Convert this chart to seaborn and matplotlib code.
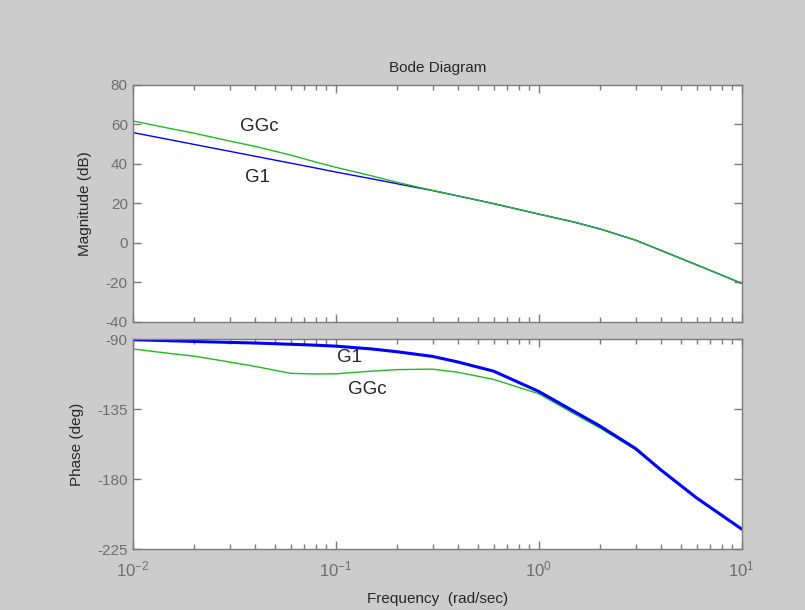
import numpy as np
import pandas as pd
import seaborn as sns
import matplotlib
matplotlib.use("Agg")
import matplotlib.pyplot as plt
from matplotlib.ticker import LogLocator, NullFormatter, FixedLocator, FuncFormatter

# frequency grid (rad/sec) and curves
freq = [0.01, 0.015, 0.02, 0.03, 0.04, 0.06, 0.08, 0.1, 0.15, 0.2, 0.3,
        0.4, 0.6, 1.0, 1.5, 2.0, 3.0, 4.0, 6.0, 10.0]

g1_mag = [55.8, 52.3, 49.8, 46.3, 43.8, 40.3, 37.8, 35.8, 32.4, 29.9, 26.4,
          23.7, 19.8, 14.5, 10.4, 7.0, 1.3, -3.9, -11.2, -20.6]
ggc_mag = [61.7, 58.0, 55.5, 51.5, 48.8, 44.4, 40.8, 38.2, 33.9, 30.6, 26.5,
           23.7, 19.8, 14.5, 10.4, 7.0, 1.3, -3.9, -11.2, -20.6]

g1_phase = [-90.3, -90.9, -91.4, -92.0, -92.4, -93.2, -93.8, -94.4, -96.2, -98.0,
            -101.0, -104.6, -110.5, -123.5, -136.5, -145.7, -160.2, -174.0, -192.0, -212.0]
ggc_phase = [-96.2, -99.0, -100.8, -104.6, -107.4, -111.9, -112.3, -112.2, -110.5, -109.5,
             -109.2, -111.2, -115.8, -125.0, -138.0, -147.0, -161.0, -174.5, -192.3, -212.0]

mag_ticks = [-40, -20, 0, 20, 40, 60, 80]
phase_ticks = [-225, -180, -135, -90]

sns.set_style("ticks")
plt.rcParams['font.family'] = ['Liberation Sans', 'DejaVu Sans']
plt.rcParams['mathtext.fontset'] = 'custom'
plt.rcParams['mathtext.rm'] = 'Liberation Sans'
plt.rcParams['axes.unicode_minus'] = False

grey = '#7a7a7a'
blue = '#0000ff'
green = '#22b822'
fs = 11

fig = plt.figure(figsize=(8.05, 6.10), dpi=100, facecolor='#cccccc')
ax1 = fig.add_axes([0.1648, 0.4726, 0.7566, 0.3885])
ax2 = fig.add_axes([0.1648, 0.0995, 0.7566, 0.3443])

df = pd.DataFrame({'freq': freq, 'g1_mag': g1_mag, 'ggc_mag': ggc_mag,
                   'g1_phase': g1_phase, 'ggc_phase': ggc_phase})

for ax in (ax1, ax2):
    ax.set_xscale('log')

sns.lineplot(data=df, x='freq', y='g1_mag', ax=ax1, color=blue, lw=1.0)
sns.lineplot(data=df, x='freq', y='ggc_mag', ax=ax1, color=green, lw=1.0)

sns.lineplot(data=df, x='freq', y='ggc_phase', ax=ax2, color=green, lw=1.0)
sns.lineplot(data=df, x='freq', y='g1_phase', ax=ax2, color=blue, lw=2.2)

ax1.set_ylim(-40, 80)
ax2.set_ylim(-225, -90)
ax1.yaxis.set_major_locator(FixedLocator(mag_ticks))
ax2.yaxis.set_major_locator(FixedLocator(phase_ticks))


def pow10(v, pos):
    return r'$\mathdefault{10^{%d}}$' % int(round(np.log10(v)))


for ax in (ax1, ax2):
    ax.set_xlim(0.01, 10)
    ax.set_facecolor('white')
    ax.xaxis.set_major_locator(LogLocator(base=10, numticks=10))
    ax.xaxis.set_major_formatter(FuncFormatter(pow10))
    ax.xaxis.set_minor_locator(LogLocator(base=10, subs=np.arange(2, 10), numticks=10))
    ax.xaxis.set_minor_formatter(NullFormatter())
    for s in ax.spines.values():
        s.set_visible(True)
        s.set_color(grey)
        s.set_linewidth(1.0)
    ax.tick_params(which='both', direction='in', top=True, right=True,
                   color=grey, labelcolor='#6e6e6e', labelsize=fs, width=1.0)
    ax.tick_params(which='major', length=6)
    ax.tick_params(which='minor', length=3.5)
    ax.set_xlabel('')

ax2.tick_params(axis='x', labelsize=12, pad=7)
ax1.tick_params(labelbottom=False)
ax1.set_ylabel('Magnitude (dB)', fontsize=fs)
ax2.set_ylabel('Phase (deg)', fontsize=fs)
ax1.yaxis.set_label_coords(-0.066, 0.5)
ax2.yaxis.set_label_coords(-0.080, 0.5)
ax2.set_xlabel('Frequency  (rad/sec)', fontsize=fs)
ax2.xaxis.set_label_coords(0.5, -0.205)
ax1.set_title('Bode Diagram', fontsize=fs, pad=9)

ax1.text(0.0419, 58.6, 'GGc', fontsize=13.5, ha='center', va='center')
ax1.text(0.0410, 32.8, 'G1', fontsize=13.5, ha='center', va='center')
ax2.text(0.1175, -101.4, 'G1', fontsize=13.5, ha='center', va='center')
ax2.text(0.1426, -122.6, 'GGc', fontsize=13.5, ha='center', va='center')

fig.savefig('out.png', dpi=100, facecolor=fig.get_facecolor())
